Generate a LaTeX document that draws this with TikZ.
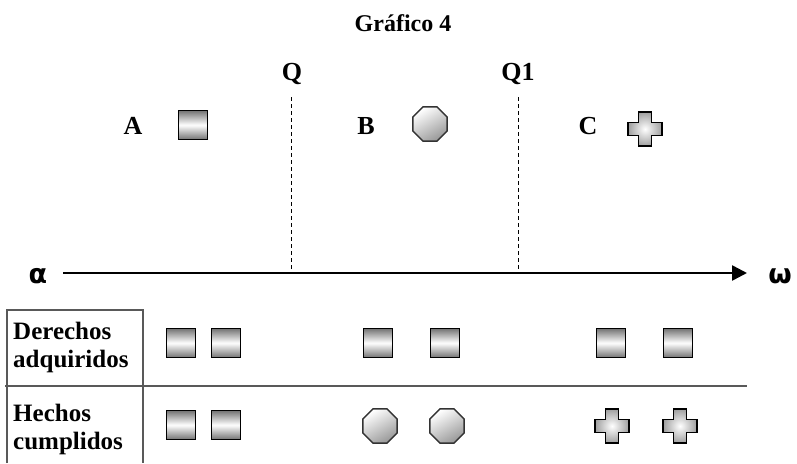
\documentclass[tikz,border=0pt]{standalone}
\usepackage{fontspec}
\setmainfont{Liberation Serif}
\newfontfamily\greekfont{DejaVu Sans}
\usetikzlibrary{shapes.geometric,arrows.meta,positioning}

\tikzset{
  plus/.pic={
    \shadedraw[draw=black, line width=1.5pt, inner color=white, outer color=gray!75]
      (-6.5,-17) -- (6.5,-17) -- (6.5,-6.5) -- (17,-6.5) -- (17,6.5) -- (6.5,6.5)
      -- (6.5,17) -- (-6.5,17) -- (-6.5,6.5) -- (-17,6.5) -- (-17,-6.5) -- (-6.5,-6.5) -- cycle;
  }
}

\begin{document}
\begin{tikzpicture}[
    x=1pt, y=-1pt,
    lbl/.style={font=\fontsize{26}{30}\selectfont\bfseries, anchor=base, inner sep=0pt},
    rowlbl/.style={font=\fontsize{25}{28}\selectfont\bfseries, align=left, anchor=west, inner sep=0pt},
    greek/.style={font=\greekfont\fontsize{27}{30}\selectfont\bfseries, anchor=base, inner sep=0pt},
    sq/.style={draw=black, line width=1.6pt, minimum size=29pt, inner sep=0pt,
      top color=gray!90!black, bottom color=gray!90!black, middle color=white},
    oct/.style={regular polygon, regular polygon sides=8, draw=black!80, line width=1.4pt,
      minimum size=37pt, inner sep=0pt, top color=white, bottom color=gray!80, shading angle=30},
    tline/.style={draw=black!65, line width=1.8pt}
  ]
  \useasboundingbox (0,0) rectangle (797,463);

  % titulo y cortes
  \node[font=\fontsize{24}{28}\selectfont\bfseries, anchor=base, inner sep=0pt] (title) at (403,31) {Gráfico 4};
  \node[lbl] (labQ) at (292,80) {Q};
  \node[lbl] (labQ1) at (518,80) {Q1};

  \node[lbl] (labA) at (133,134) {A};
  \node[sq] (symA) at (193,125) {};
  \node[lbl] (labB) at (366,134) {B};
  \node[oct] (symB) at (430,124) {};
  \node[lbl] (labC) at (588,134) {C};
  \pic (symC) at (645,129) {plus};

  % eje
  \node[greek] (alpha) at (38,283) {α};
  \node[greek] (omega) at (780,283) {ω};
  \coordinate (ax0) at (63,273);
  \coordinate (ax1) at (747,273);
  \draw[line width=2.5pt, -{Triangle[length=15pt,width=15pt]}] (ax0) -- (ax1);

  \coordinate (q0) at (291,97);
  \coordinate (q1) at (518,97);
  \draw[line width=1pt, dash pattern=on 4pt off 3pt] (q0) -- (q0 |- ax0);
  \draw[line width=1pt, dash pattern=on 4pt off 3pt] (q1) -- (q1 |- ax0);

  % tabla
  \draw[tline] (7,463) -- (7,310) -- (143,310) -- (143,463);
  \draw[tline] (5,386) -- (747,386);
  \node[rowlbl] (rowDA) at (13,347) {Derechos\\adquiridos};
  \node[rowlbl] (rowHC) at (13,429) {Hechos\\cumplidos};

  \foreach \x [count=\i] in {181,226,378,445,611,678}
    \node[sq] (da\i) at (\x,343) {};
  \foreach \x [count=\i] in {181,226}
    \node[sq] (hc\i) at (\x,425) {};
  \foreach \x [count=\i] in {380,447}
    \node[oct] (hcb\i) at (\x,426) {};
  \foreach \x [count=\i] in {612,680}
    \pic (hcc\i) at (\x,426) {plus};
\end{tikzpicture}
\end{document}
